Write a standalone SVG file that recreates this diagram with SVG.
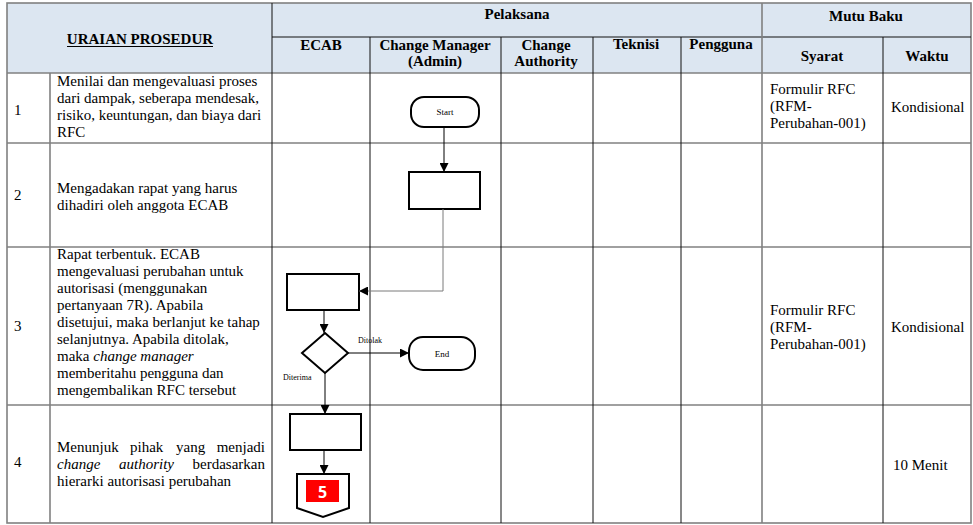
<svg xmlns="http://www.w3.org/2000/svg" width="973" height="525" viewBox="0 0 973 525">
  <defs>
    <marker id="arrow" viewBox="0 0 10 10" refX="10" refY="5" markerWidth="9" markerHeight="9" markerUnits="userSpaceOnUse" orient="auto">
      <path d="M0,0 L10,5 L0,10 z" fill="#000"/>
    </marker>
    <style>
      .hdr { fill: #dce6f1; }
      .grid { stroke: #111; stroke-width: 1; fill: none; }
      .sep { stroke: #808080; stroke-width: 1.6; fill: none; }
      .th { font-family: "Liberation Serif", "Times New Roman", serif; font-size: 15px; font-weight: bold; fill: #000; text-anchor: middle; }
      .td { font-family: "Liberation Serif", "Times New Roman", serif; font-size: 15px; fill: #000; }
      .it { font-style: italic; }
      .shape { fill: #fff; stroke: #000; stroke-width: 2; }
      .lbl { font-family: "Liberation Serif", "Times New Roman", serif; font-size: 9px; fill: #000; text-anchor: middle; }
      .small { font-family: "Liberation Serif", "Times New Roman", serif; font-size: 8px; fill: #000; }
      .link { stroke: #000; stroke-width: 1; fill: none; marker-end: url(#arrow); }
      .link-grey { stroke: #7a7a7a; stroke-width: 1; fill: none; marker-end: url(#arrow); }
    </style>
  </defs>

  <rect width="973" height="525" fill="#fff"/>

  <!-- table header background -->
  <rect class="hdr" x="7" y="3" width="964" height="70"/>

  <!-- table grid -->
  <g id="table-grid">
    <!-- outer frame and row separators -->
    <rect class="sep" x="7" y="3" width="964" height="520"/>
    <line class="sep" x1="7" y1="73" x2="971" y2="73"/>
    <line class="sep" x1="7" y1="143" x2="971" y2="143"/>
    <line class="sep" x1="7" y1="247" x2="971" y2="247"/>
    <line class="sep" x1="7" y1="405" x2="971" y2="405"/>
    <!-- header sub-row -->
    <line class="grid" x1="272" y1="37" x2="971" y2="37"/>
    <!-- column lines -->
    <line class="sep" x1="50" y1="73" x2="50" y2="523"/>
    <line class="grid" x1="272" y1="3" x2="272" y2="523"/>
    <line class="grid" x1="370" y1="37" x2="370" y2="523"/>
    <line class="grid" x1="501" y1="37" x2="501" y2="523"/>
    <line class="grid" x1="593" y1="37" x2="593" y2="523"/>
    <line class="grid" x1="681" y1="37" x2="681" y2="523"/>
    <line class="sep" x1="762" y1="3" x2="762" y2="523"/>
    <line class="grid" x1="883" y1="37" x2="883" y2="523"/>
  </g>

  <!-- header labels -->
  <g id="header">
    <text class="th" x="140" y="44">URAIAN PROSEDUR</text>
    <line x1="67" y1="46.5" x2="213" y2="46.5" stroke="#000" stroke-width="1"/>
    <text class="th" x="517" y="19">Pelaksana</text>
    <text class="th" x="866" y="21">Mutu Baku</text>
    <text class="th" x="321" y="50">ECAB</text>
    <text class="th" x="435" y="50">Change Manager</text>
    <text class="th" x="435" y="66">(Admin)</text>
    <text class="th" x="546" y="50">Change</text>
    <text class="th" x="546" y="66">Authority</text>
    <text class="th" x="636" y="49">Teknisi</text>
    <text class="th" x="721" y="49">Pengguna</text>
    <text class="th" x="822" y="61">Syarat</text>
    <text class="th" x="927" y="61">Waktu</text>
  </g>

  <!-- row 1 -->
  <g id="row-1">
    <text class="td" x="14" y="115">1</text>
    <text class="td" x="57" y="86">Menilai dan mengevaluasi proses</text>
    <text class="td" x="57" y="103">dari dampak, seberapa mendesak,</text>
    <text class="td" x="57" y="120">risiko, keuntungan, dan biaya dari</text>
    <text class="td" x="57" y="137">RFC</text>
    <text class="td" x="770" y="94">Formulir RFC</text>
    <text class="td" x="770" y="111">(RFM-</text>
    <text class="td" x="770" y="128">Perubahan-001)</text>
    <text class="td" x="891" y="112">Kondisional</text>
  </g>

  <!-- row 2 -->
  <g id="row-2">
    <text class="td" x="14" y="200">2</text>
    <text class="td" x="57" y="193">Mengadakan rapat yang harus</text>
    <text class="td" x="57" y="210">dihadiri oleh anggota ECAB</text>
  </g>

  <!-- row 3 -->
  <g id="row-3">
    <text class="td" x="14" y="331">3</text>
    <text class="td" x="57" y="259">Rapat terbentuk. ECAB</text>
    <text class="td" x="57" y="276">mengevaluasi perubahan untuk</text>
    <text class="td" x="57" y="293">autorisasi (menggunakan</text>
    <text class="td" x="57" y="310">pertanyaan 7R). Apabila</text>
    <text class="td" x="57" y="327">disetujui, maka berlanjut ke tahap</text>
    <text class="td" x="57" y="344">selanjutnya. Apabila ditolak,</text>
    <text class="td" x="57" y="361">maka <tspan class="it">change manager</tspan></text>
    <text class="td" x="57" y="378">memberitahu pengguna dan</text>
    <text class="td" x="57" y="395">mengembalikan RFC tersebut</text>
    <text class="td" x="770" y="315">Formulir RFC</text>
    <text class="td" x="770" y="332">(RFM-</text>
    <text class="td" x="770" y="349">Perubahan-001)</text>
    <text class="td" x="891" y="332">Kondisional</text>
  </g>

  <!-- row 4 (justified lines set word by word) -->
  <g id="row-4">
    <text class="td" x="14" y="467">4</text>
    <text class="td" x="57" y="452">Menunjuk</text>
    <text class="td" x="130" y="452">pihak</text>
    <text class="td" x="176" y="452">yang</text>
    <text class="td" x="265" y="452" text-anchor="end">menjadi</text>
    <text class="td it" x="57" y="469">change</text>
    <text class="td it" x="119" y="469">authority</text>
    <text class="td" x="265" y="469" text-anchor="end">berdasarkan</text>
    <text class="td" x="57" y="486">hierarki autorisasi perubahan</text>
    <text class="td" x="893" y="470">10 Menit</text>
  </g>

  <!-- flowchart nodes -->
  <g id="start">
    <rect class="shape" x="411" y="97" width="68" height="30" rx="13"/>
    <text class="lbl" x="445" y="115">Start</text>
  </g>
  <g id="hold-meeting">
    <rect class="shape" x="409" y="172" width="71" height="37"/>
  </g>
  <g id="ecab-evaluate">
    <rect class="shape" x="287" y="274" width="72" height="36"/>
  </g>
  <g id="decision">
    <polygon class="shape" points="325,333 348,353 325,373 302,353"/>
  </g>
  <g id="end">
    <rect class="shape" x="409" y="337" width="66" height="33" rx="14"/>
    <text class="lbl" x="442" y="357">End</text>
  </g>
  <g id="assign-authority">
    <rect class="shape" x="290" y="414" width="71" height="36"/>
  </g>
  <g id="offpage-5">
    <polygon class="shape" points="297,474 349,474 349,508 323,517 297,508"/>
    <rect x="306" y="480" width="33" height="22" fill="#ff0000"/>
    <text x="322.5" y="498" font-family="'Open Sans', 'Liberation Sans', sans-serif" font-size="16" font-weight="bold" fill="#fff" text-anchor="middle">5</text>
  </g>

  <!-- connectors -->
  <g id="connectors">
    <line class="link" x1="444" y1="127" x2="444" y2="172"/>
    <polyline class="link-grey" points="443,209 443,291 359,291"/>
    <line class="link" x1="324" y1="310" x2="324" y2="333"/>
    <line class="link" x1="348" y1="353" x2="409" y2="353"/>
    <line class="link" x1="325" y1="373" x2="325" y2="414"/>
    <line class="link" x1="324" y1="450" x2="324" y2="474"/>
    <text class="small" x="358" y="343">Ditolak</text>
    <text class="small" x="283" y="380">Diterima</text>
  </g>
</svg>
